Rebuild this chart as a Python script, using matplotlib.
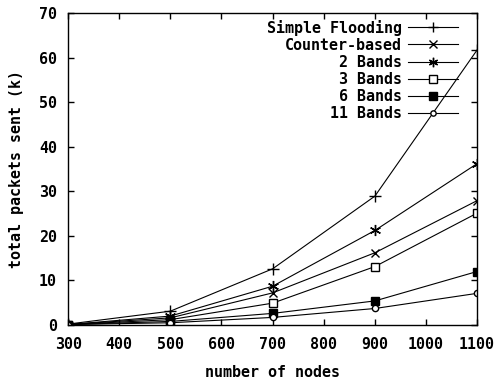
import numpy as np
import matplotlib
matplotlib.use("Agg")
import matplotlib.pyplot as plt

# data
nodes = [300, 500, 700, 900, 1100]
simple_flooding = [0.2, 3.1, 12.6, 28.9, 61.7]
counter_based = [0.1, 1.6, 7.2, 16.2, 27.9]
bands_2 = [0.1, 2.0, 8.7, 21.2, 36.2]
bands_3 = [0.1, 1.2, 4.9, 13.1, 25.1]
bands_6 = [0.1, 0.8, 2.6, 5.4, 12.0]
bands_11 = [0.1, 0.5, 1.7, 3.7, 7.1]

series_labels = ["Simple Flooding", "Counter-based", "2 Bands", "3 Bands", "6 Bands", "11 Bands"]

plt.rcParams['font.family'] = ['DejaVu Sans Mono']
plt.rcParams['font.weight'] = 'bold'
fs = 10.8

fig = plt.figure(figsize=(4.97, 3.81), dpi=100)
ax = fig.add_axes([0.137, 0.147, 0.823, 0.819])

lw = 0.8
ax.plot(nodes, simple_flooding, color='black', lw=lw, marker='+', ms=8, mew=1, label=series_labels[0])
ax.plot(nodes, counter_based, color='black', lw=lw, marker='x', ms=6, mew=1, label=series_labels[1])
ax.plot(nodes, bands_2, color='black', lw=lw, marker=(6, 2, 0), ms=8, mew=1, label=series_labels[2])
ax.plot(nodes, bands_3, color='black', lw=lw, marker='s', ms=6, mew=1, mfc='white', label=series_labels[3])
ax.plot(nodes, bands_6, color='black', lw=lw, marker='s', ms=6, mew=1, mfc='black', label=series_labels[4])
ax.plot(nodes, bands_11, color='black', lw=lw, marker='o', ms=4.5, mew=1, mfc='white', label=series_labels[5])

ax.set_xlim(300, 1100)
ax.set_ylim(0, 70)
ax.set_xticks([300, 400, 500, 600, 700, 800, 900, 1000, 1100])
ax.set_yticks([0, 10, 20, 30, 40, 50, 60, 70])
ax.tick_params(direction='in', length=4, width=1, top=True, right=True, labelsize=fs)
ax.tick_params(axis='x', pad=9)
ax.tick_params(axis='y', pad=8)
for s in ax.spines.values():
    s.set_linewidth(1)

ax.set_xlabel('number of nodes', fontsize=fs, fontweight='bold', labelpad=9)
ax.set_ylabel('total packets sent (k)', fontsize=fs, fontweight='bold', labelpad=11)

leg = ax.legend(loc='upper right', frameon=False, markerfirst=False, handlelength=3.3,
                handletextpad=0.4, labelspacing=0.14, borderaxespad=0.0,
                bbox_to_anchor=(0.967, 0.998), fontsize=fs, markerscale=0.85)
for t in leg.get_texts():
    t.set_ha('right')

fig.savefig('out.png', dpi=100)
